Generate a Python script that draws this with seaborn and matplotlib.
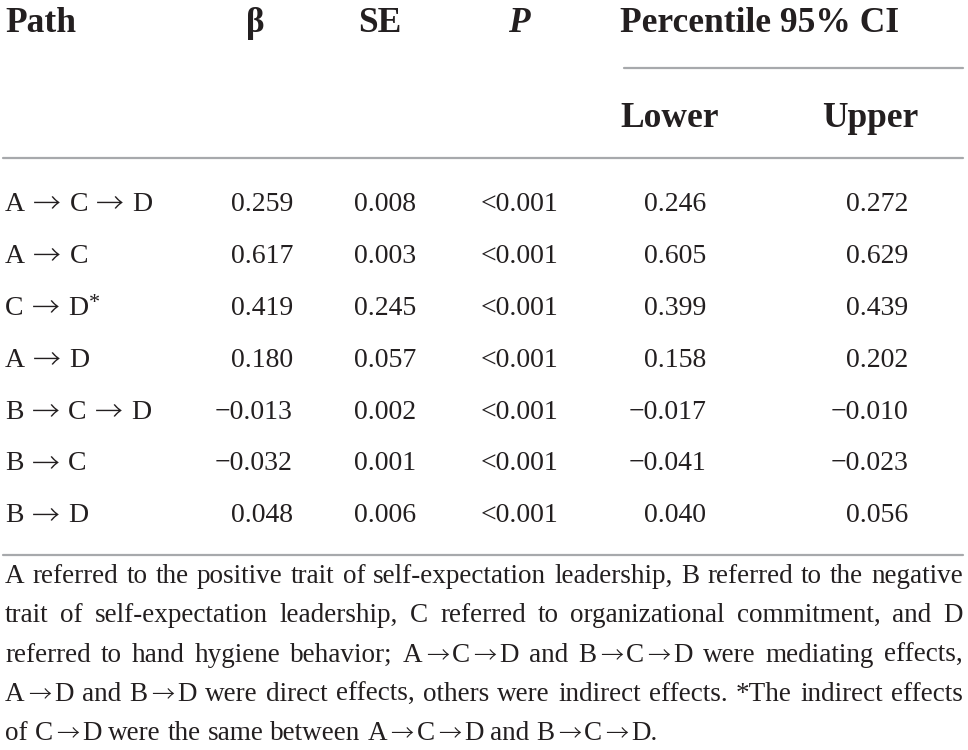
import matplotlib
matplotlib.use("Agg")
import matplotlib.pyplot as plt
import seaborn as sns

# table content
paths = ["A → C → D", "A → C", "C → D", "A → D", "B → C → D", "B → C", "B → D"]
starred = [False, False, True, False, False, False, False]
beta = [0.259, 0.617, 0.419, 0.180, -0.013, -0.032, 0.048]
se = [0.008, 0.003, 0.245, 0.057, 0.002, 0.001, 0.006]
p_vals = ["<0.001"] * 7
lower = [0.246, 0.605, 0.399, 0.158, -0.017, -0.041, 0.040]
upper = [0.272, 0.629, 0.439, 0.202, -0.010, -0.023, 0.056]

note_lines = [
    "A referred to the positive trait of self-expectation leadership, B referred to the negative",
    "trait of self-expectation leadership, C referred to organizational commitment, and D",
    "referred to hand hygiene behavior; A→C→D and B→C→D were mediating effects,",
    "A→D and B→D were direct effects, others were indirect effects. *The indirect effects",
    "of C→D were the same between A→C→D and B→C→D.",
]


def fmt(v):
    s = f"{abs(v):.3f}"
    return ("−" + s) if v < 0 else s


sns.set_theme(style="white")
plt.rcParams["font.family"] = ["Liberation Serif", "DejaVu Serif"]

fig = plt.figure(figsize=(9.68, 7.5), dpi=100)
ax = fig.add_axes([0, 0, 1, 1])
ax.set_xlim(0, 968)
ax.set_ylim(750, 0)
ax.axis("off")
fig.canvas.draw()
renderer = fig.canvas.get_renderer()

txt = "#231f20"
rule = "#a7a9ac"


def width(a):
    return a.get_window_extent(renderer).width


def draw_unit(x, y, unit, size, space=0.25, arrow_scale=1.0, drop=2.0):
    # letters in serif, arrows from Noto Sans CJK (long thin arrow like the original)
    sp = space * size * 100 / 72
    arts = []
    cx = x
    for k, part in enumerate(unit.split("→")):
        part = part.strip()
        if k > 0:
            cx += sp
            a = ax.text(cx, y + drop, "→", fontsize=size * arrow_scale, family="Noto Sans CJK JP",
                        fontweight="light", color=txt, va="baseline")
            arts.append(a)
            cx += width(a) + sp
        if part:
            a = ax.text(cx, y, part, fontsize=size, color=txt, va="baseline")
            arts.append(a)
            cx += width(a)
    return arts, cx - x


# header
hs = 25.5
ax.text(5, 32, "Path", fontsize=hs, fontweight="bold", color=txt, va="baseline")
ax.text(255, 32, "β", fontsize=hs, fontweight="bold", color=txt, va="baseline", ha="center")
ax.text(380, 32, "SE", fontsize=hs, fontweight="bold", color=txt, va="baseline", ha="center")
ax.text(519, 32, "P", fontsize=hs, fontweight="bold", style="italic", color=txt, va="baseline", ha="center")
ax.text(620, 32, "Percentile 95% CI", fontsize=hs, fontweight="bold", color=txt, va="baseline")
ax.text(620, 127, "Lower", fontsize=hs, fontweight="bold", color=txt, va="baseline")
ax.text(822, 127, "Upper", fontsize=hs, fontweight="bold", color=txt, va="baseline")

ax.plot([624, 963], [68, 68], color=rule, lw=1.6)
ax.plot([3, 963], [158, 158], color=rule, lw=1.6)
ax.plot([3, 963], [555, 555], color=rule, lw=1.6)

# body rows
bs = 20
for i in range(len(paths)):
    y = 211 + i * 51.9
    arts, w = draw_unit(5, y, paths[i], bs, space=0.3, drop=2.5)
    if starred[i]:
        ax.text(5 + w + 1, y - 7, "*", fontsize=16, color=txt, va="baseline")
    ax.text(293, y, fmt(beta[i]), fontsize=bs, color=txt, va="baseline", ha="right")
    ax.text(416, y, fmt(se[i]), fontsize=bs, color=txt, va="baseline", ha="right")
    ax.text(558, y, p_vals[i], fontsize=bs, color=txt, va="baseline", ha="right")
    ax.text(706, y, fmt(lower[i]), fontsize=bs, color=txt, va="baseline", ha="right")
    ax.text(908, y, fmt(upper[i]), fontsize=bs, color=txt, va="baseline", ha="right")

# footnote, justified
fs = 19.5
left, right = 5, 963
for j, line in enumerate(note_lines):
    y = 583 + j * 39.3
    units = [draw_unit(0, y, u, fs, space=0.12, arrow_scale=0.85, drop=1.5)
             for u in line.split(" ")]
    total = sum(w for _, w in units)
    if j < len(note_lines) - 1:
        gap = (right - left - total) / (len(units) - 1)
    else:
        gap = 0.25 * fs * 100 / 72
    x = left
    for arts, w in units:
        for a in arts:
            a.set_x(a.get_position()[0] + x)
        x += w + gap

fig.savefig("out.png", dpi=100)
